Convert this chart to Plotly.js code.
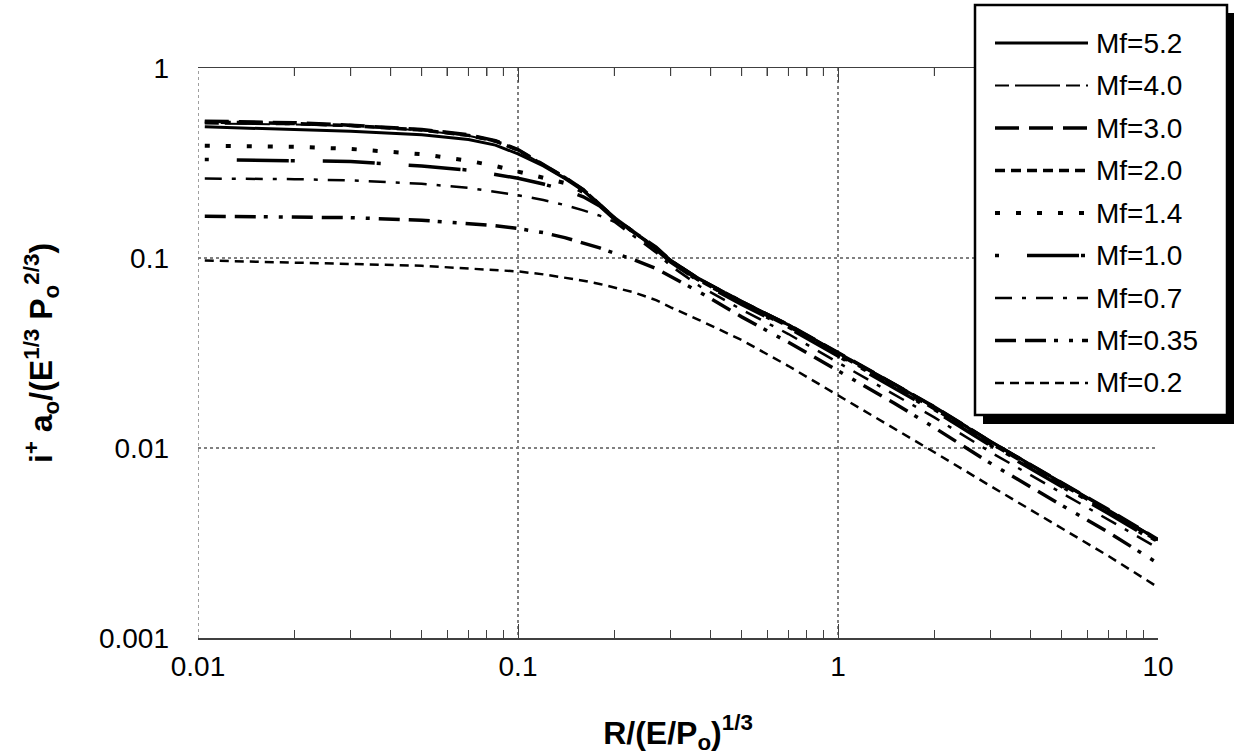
<!DOCTYPE html>
<html>
<head>
<meta charset="utf-8">
<script src="https://cdn.plot.ly/plotly-3.0.1.min.js"></script>
<style>html,body{margin:0;padding:0;background:#fff;}#chart{width:1234px;height:756px;}</style>
</head>
<body>
<div id="chart"></div>
<script>
// ---- data ----
const xValues = [0.0105, 0.02, 0.03, 0.05, 0.07, 0.085, 0.1, 0.12, 0.14, 0.16, 0.18, 0.2, 0.23, 0.27, 0.3, 0.37, 0.5, 0.7, 1, 1.5, 2, 3, 5, 7, 10];

const mf52 = [0.49, 0.475, 0.465, 0.445, 0.42, 0.393, 0.353, 0.305, 0.262, 0.226, 0.19, 0.161, 0.136, 0.113, 0.097, 0.077, 0.059, 0.0445, 0.0317, 0.0217, 0.0164, 0.0108, 0.00656, 0.00472, 0.00328];
const mf40 = [0.51, 0.505, 0.495, 0.47, 0.44, 0.41, 0.368, 0.31, 0.265, 0.228, 0.191, 0.162, 0.137, 0.114, 0.098, 0.078, 0.0595, 0.0448, 0.0319, 0.0219, 0.0166, 0.0109, 0.0066, 0.00476, 0.00332];
const mf30 = [0.525, 0.515, 0.50, 0.475, 0.445, 0.415, 0.372, 0.312, 0.266, 0.229, 0.192, 0.163, 0.137, 0.114, 0.097, 0.077, 0.059, 0.0445, 0.0318, 0.0218, 0.0165, 0.0108, 0.0066, 0.00474, 0.0033];
const mf20 = [0.52, 0.51, 0.498, 0.472, 0.442, 0.412, 0.37, 0.31, 0.265, 0.228, 0.192, 0.163, 0.137, 0.113, 0.096, 0.076, 0.058, 0.0438, 0.0312, 0.0214, 0.0161, 0.0106, 0.00645, 0.00465, 0.00325];
const mf14 = [0.39, 0.385, 0.375, 0.352, 0.325, 0.305, 0.285, 0.265, 0.248, 0.222, 0.19, 0.162, 0.136, 0.112, 0.096, 0.076, 0.058, 0.0435, 0.031, 0.0212, 0.016, 0.0105, 0.0064, 0.0046, 0.00322];
const mf10 = [0.33, 0.327, 0.322, 0.305, 0.29, 0.275, 0.263, 0.245, 0.228, 0.21, 0.188, 0.16, 0.135, 0.111, 0.095, 0.075, 0.057, 0.0428, 0.0305, 0.0208, 0.0157, 0.0103, 0.0063, 0.00452, 0.00316];
const mf07 = [0.262, 0.26, 0.256, 0.246, 0.234, 0.224, 0.214, 0.202, 0.19, 0.178, 0.167, 0.155, 0.131, 0.107, 0.091, 0.071, 0.0535, 0.0398, 0.0282, 0.0192, 0.0145, 0.0095, 0.0058, 0.0042, 0.00297];
const mf035 = [0.166, 0.165, 0.163, 0.158, 0.152, 0.148, 0.143, 0.136, 0.128, 0.12, 0.113, 0.106, 0.098, 0.088, 0.08, 0.066, 0.049, 0.036, 0.0255, 0.0172, 0.0128, 0.0083, 0.005, 0.0036, 0.00247];
const mf02 = [0.097, 0.095, 0.093, 0.091, 0.088, 0.0865, 0.085, 0.082, 0.079, 0.076, 0.073, 0.07, 0.066, 0.06, 0.055, 0.047, 0.037, 0.027, 0.019, 0.0127, 0.0095, 0.0063, 0.0038, 0.0027, 0.00185];

const seriesNames = ['Mf=5.2', 'Mf=4.0', 'Mf=3.0', 'Mf=2.0', 'Mf=1.4', 'Mf=1.0', 'Mf=0.7', 'Mf=0.35', 'Mf=0.2'];
const seriesValues = [mf52, mf40, mf30, mf20, mf14, mf10, mf07, mf035, mf02];

const xTickVals = [0.01, 0.1, 1, 10];
const xTickText = ['0.01', '0.1', '1', '10'];
const yTickVals = [0.001, 0.01, 0.1, 1];
const yTickText = ['0.001', '0.01', '0.1', '1'];

// ---- styles ----
const lineStyles = [
  {dash: 'solid', width: 3},
  {dash: '14px,6px,45px,6px', width: 2},
  {dash: '24px,10px', width: 3.5},
  {dash: '10px,6px', width: 3.5},
  {dash: '5px,16px', width: 4},
  {dash: '4px,28px,52px,2px', width: 3.5},
  {dash: '17px,10px,4px,10px', width: 2.5},
  {dash: '21px,9px,21px,8px,4px,11px,4px,9px', width: 3.5},
  {dash: '9px,6px', width: 2.5}
];

const minorVals = [];
for (let e = -3; e <= 1; e++) {
  for (let m = 2; m <= 9; m++) minorVals.push(m * Math.pow(10, e));
}

const FONT = 'Liberation Sans, Arial, sans-serif';

const traces = seriesValues.map((ys, i) => ({
  x: xValues, y: ys, type: 'scatter', mode: 'lines', name: seriesNames[i],
  line: {color: '#000', dash: lineStyles[i].dash, width: lineStyles[i].width},
  showlegend: false
}));

// ---- custom legend (box with shadow, long line samples) ----
const L = 198, R = 1158, T = 68, B = 638;
const px = v => (v - L) / (R - L);
const py = v => (B - v) / (B - T);
const shapes = [];
const annotations = [];
// dotted grid line along the left edge (x = 0.01)
shapes.push({type: 'line', xref: 'x', yref: 'paper', x0: xTickVals[0], x1: xTickVals[0], y0: 0, y1: 1,
  line: {color: '#808080', width: 1.5, dash: 'dot'}, layer: 'below'});
// minor ticks along the top frame
minorVals.filter(v => v > xTickVals[0] && v < xTickVals[xTickVals.length - 1]).forEach(v => {
  shapes.push({type: 'line', xref: 'x', yref: 'paper', x0: v, x1: v, y0: 1, y1: 1 - 8 / (B - T),
    line: {color: '#404040', width: 1}, layer: 'above'});
});
shapes.push({type: 'rect', xref: 'paper', yref: 'paper', x0: px(983), x1: px(1236), y0: py(13), y1: py(424),
  fillcolor: '#000', line: {width: 0}, layer: 'above'});
shapes.push({type: 'rect', xref: 'paper', yref: 'paper', x0: px(975), x1: px(1227), y0: py(5), y1: py(415),
  fillcolor: '#fff', line: {color: '#000', width: 2.5}, layer: 'above'});
seriesNames.forEach((name, i) => {
  const yy = 43 + 42.5 * i;
  shapes.push({type: 'line', xref: 'paper', yref: 'paper', x0: px(995), x1: px(1088), y0: py(yy), y1: py(yy),
    line: {color: '#000', dash: lineStyles[i].dash, width: lineStyles[i].width}, layer: 'above'});
  annotations.push({xref: 'paper', yref: 'paper', x: px(1094), y: py(yy), xanchor: 'left', yanchor: 'middle',
    text: name, showarrow: false, font: {family: FONT, size: 28, color: '#000'}});
});

function minorTicks() {
  return {tickmode: 'array', tickvals: minorVals.slice(), ticks: 'inside', ticklen: 8, tickcolor: '#404040', tickwidth: 1, showgrid: false};
}

const layout = {
  width: 1234, height: 756,
  margin: {l: L, r: 1234 - R, t: T, b: 756 - B},
  paper_bgcolor: '#fff', plot_bgcolor: '#fff',
  font: {family: FONT, color: '#000'},
  showlegend: false,
  xaxis: {
    type: 'log', range: [-2, 1],
    tickmode: 'array', tickvals: xTickVals, ticktext: xTickText,
    tickfont: {family: FONT, size: 28, color: '#000'},
    ticks: 'inside', ticklen: 14, tickcolor: '#404040', tickwidth: 1,
    ticklabelstandoff: 3,
    showline: true, linecolor: '#404040', linewidth: 1.5, mirror: 'allticks',
    showgrid: true, gridcolor: '#808080', griddash: 'dot', gridwidth: 1.5,
    zeroline: false,
    minor: minorTicks(),
    title: {text: 'R/(E/P<sub>o</sub>)<sup>1/3</sup>', font: {family: FONT, size: 32, weight: 'bold', color: '#000'}, standoff: 40}
  },
  yaxis: {
    type: 'log', range: [-3, 0],
    tickmode: 'array', tickvals: yTickVals, ticktext: yTickText,
    tickfont: {family: FONT, size: 28, color: '#000'},
    ticks: '', ticklabelstandoff: 28,
    showline: false,
    showgrid: true, gridcolor: '#808080', griddash: 'dot', gridwidth: 1.5,
    zeroline: false,
    title: {text: 'i<sup>+</sup> a<sub>o</sub>/(E<sup>1/3</sup> P<sub>o</sub><sup>2/3</sup>)', font: {family: FONT, size: 32, weight: 'bold', color: '#000'}, standoff: 36}
  },
  yaxis2: {
    type: 'log', range: [-3, 0], overlaying: 'y', side: 'right',
    tickmode: 'array', tickvals: yTickVals, showticklabels: false,
    ticks: 'inside', ticklen: 14, tickcolor: '#404040', tickwidth: 1,
    showline: true, linecolor: '#404040', linewidth: 1.5,
    showgrid: false, zeroline: false,
    minor: minorTicks()
  },
  shapes: shapes,
  annotations: annotations
};

Plotly.newPlot('chart', traces, layout, {displayModeBar: false, staticPlot: true});
</script>
</body>
</html>
